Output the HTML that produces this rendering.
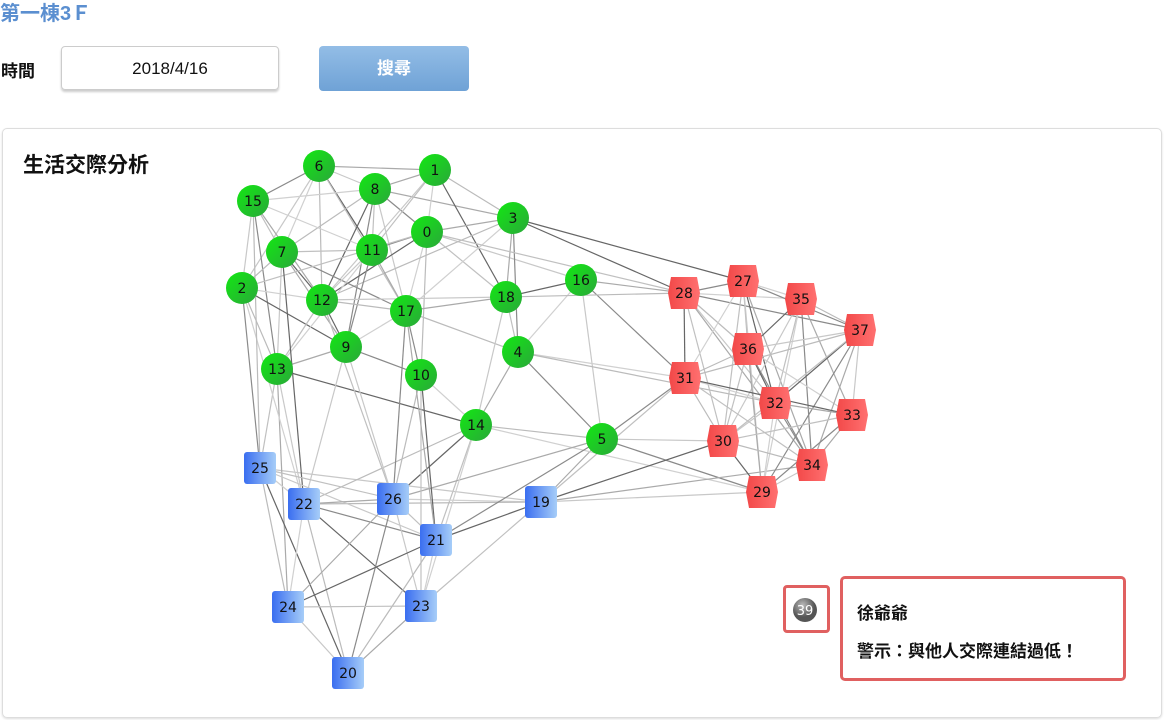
<!DOCTYPE html>
<html><head><meta charset="utf-8">
<style>
body{margin:0;width:1164px;height:720px;background:#fff;font-family:"Liberation Sans","Noto Sans CJK TC",sans-serif;position:relative;overflow:hidden}
.abs{position:absolute}
</style></head><body>
<div class="abs" style="left:0;top:0;font-size:20px;color:#5b8fd0;font-weight:bold;line-height:28px">第一棟3Ｆ</div>
<div class="abs" style="left:1px;top:57px;font-size:17px;color:#111;font-weight:bold">時間</div>
<div class="abs" style="left:61px;top:46px;width:216px;height:42px;border:1px solid #ccc;border-radius:4px;box-shadow:0 2px 2px #ccc;text-align:center;line-height:44px;font-size:17px;color:#111">2018/4/16</div>
<div class="abs" style="left:319px;top:46px;width:150px;height:45px;border-radius:4px;background:linear-gradient(#93bde6,#6fa2d6);color:#fff;font-size:17px;font-weight:bold;text-align:center;line-height:46px">搜尋</div>
<div class="abs" style="left:2px;top:128px;width:1158px;height:588px;border:1px solid #ddd;border-radius:5px;box-shadow:0 1px 2px #ddd"></div>
<div class="abs" style="left:23px;top:149px;font-size:21px;font-weight:bold;color:#111">生活交際分析</div>
<svg class="abs" id="g" style="left:0;top:0" width="1164" height="720">
<defs>
<linearGradient id="gg" x1="0" x2="1" y1="0" y2="1"><stop offset="0" stop-color="#12e812"/><stop offset="1" stop-color="#2aa83a"/></linearGradient>
<linearGradient id="bg" x1="0" x2="1"><stop offset="0" stop-color="#3a6ef0"/><stop offset="1" stop-color="#a6cdf8"/></linearGradient>
<linearGradient id="rg" x1="0" x2="1"><stop offset="0" stop-color="#f24848"/><stop offset="1" stop-color="#ff7070"/></linearGradient>
<radialGradient id="gr" cx="0.4" cy="0.3"><stop offset="0" stop-color="#bbb"/><stop offset="1" stop-color="#555"/></radialGradient>
</defs>
<g id="edges"></g><g id="nodes"></g>
</svg>
<div class="abs" style="left:783px;top:585px;width:41px;height:42px;border:3px solid #e06060;border-radius:4px"></div>
<div class="abs" style="left:840px;top:576px;width:280px;height:99px;border:3px solid #e06060;border-radius:5px">
<div style="position:absolute;left:14px;top:20px;font-size:17px;color:#111;font-weight:bold">徐爺爺</div>
<div style="position:absolute;left:14px;top:58px;font-size:17px;color:#111;font-weight:bold">警示：與他人交際連結過低！</div>
</div>
<script>
const nodeIds=[0,1,2,3,4,5,6,7,8,9,10,11,12,13,14,15,16,17,18,19,20,21,22,23,24,25,26,27,28,29,30,31,32,33,34,35,36,37,39];
const nodeX=[427,435,242,513,518,602,319,282,375,346,421,372,322,277,476,253,581,406,506,541,348,436,304,421,288,260,393,743,684,762,723,685,775,852,812,801,748,860,805];
const nodeY=[232,170,288,218,352,439,166,252,189,347,375,250,300,369,425,201,280,311,297,502,673,540,504,606,607,468,499,281,293,492,441,378,403,415,465,299,349,330,610];
const nodeGroup=['g','g','g','g','g','g','g','g','g','g','g','g','g','g','g','g','g','g','g','b','b','b','b','b','b','b','b','r','r','r','r','r','r','r','r','r','r','r','x'];
const edgeList=[[6,8],[6,1],[6,15],[6,7],[6,12],[6,11],[6,17],[6,2],[8,1],[8,0],[8,15],[8,7],[8,12],[8,11],[8,17],[8,3],[8,9],[1,0],[1,3],[1,18],[1,11],[1,12],[0,3],[0,11],[0,17],[0,10],[0,12],[0,18],[0,16],[3,18],[3,4],[3,17],[3,12],[3,28],[15,7],[15,2],[15,12],[15,13],[15,11],[7,2],[7,12],[7,11],[7,13],[7,9],[7,17],[2,12],[2,13],[2,9],[2,0],[11,12],[11,17],[11,9],[11,13],[12,17],[12,9],[12,13],[12,18],[17,18],[17,10],[17,9],[17,4],[18,16],[18,4],[18,14],[9,13],[9,10],[10,14],[10,26],[13,14],[13,25],[13,22],[4,14],[4,5],[4,16],[14,5],[14,26],[14,21],[16,5],[16,28],[16,31],[4,31],[18,28],[3,27],[0,28],[5,30],[5,19],[5,29],[14,29],[4,32],[19,30],[19,31],[19,29],[19,34],[5,31],[19,26],[19,22],[19,21],[19,23],[19,25],[26,5],[21,5],[14,23],[14,22],[10,21],[10,23],[9,22],[13,24],[2,25],[2,22],[15,25],[7,22],[12,26],[9,26],[17,21],[17,26],[25,22],[25,24],[25,20],[25,26],[25,21],[22,26],[22,21],[22,24],[22,20],[22,23],[26,21],[26,23],[26,24],[26,20],[21,23],[21,20],[21,24],[24,23],[24,20],[23,20],[28,27],[28,35],[28,36],[28,31],[28,30],[28,32],[28,34],[28,37],[27,35],[27,36],[27,32],[27,30],[27,29],[27,34],[27,37],[27,31],[35,37],[35,36],[35,32],[35,30],[35,33],[35,34],[35,29],[36,31],[36,32],[36,30],[36,37],[36,29],[36,34],[36,33],[37,31],[37,32],[37,30],[37,33],[37,34],[37,29],[31,32],[31,30],[31,33],[31,34],[32,30],[32,33],[32,34],[32,29],[30,34],[30,29],[30,33],[34,29],[33,34],[33,29]];
const NS='http://www.w3.org/2000/svg';
const eg=document.getElementById('edges'),ng=document.getElementById('nodes');
function px(id){return nodeX[nodeIds.indexOf(id)]}
function py(id){return nodeY[nodeIds.indexOf(id)]}
const shades=['#c8c8c8','#aaa','#8a8a8a','#d0d0d0','#bbb','#666','#c0c0c0'];
edgeList.forEach((e,i)=>{
 const l=document.createElementNS(NS,'line');
 
 
 l.setAttribute('x1',px(e[0]));l.setAttribute('y1',py(e[0]));
 l.setAttribute('x2',px(e[1]));l.setAttribute('y2',py(e[1]));
 l.setAttribute('stroke',shades[i%7]);l.setAttribute('stroke-width','1.2');
 eg.appendChild(l);
});
nodeIds.forEach((id,i)=>{
 const x=nodeX[i],y=nodeY[i],g=nodeGroup[i];let s;
 if(g==='g'||g==='x'){s=document.createElementNS(NS,'circle');s.setAttribute('cx',x);s.setAttribute('cy',y);s.setAttribute('r',g==='x'?12:16);s.setAttribute('fill',g==='x'?'url(#gr)':'url(#gg)');}
 else if(g==='b'){s=document.createElementNS(NS,'rect');s.setAttribute('x',x-16);s.setAttribute('y',y-16);s.setAttribute('width',32);s.setAttribute('height',32);s.setAttribute('rx',3);s.setAttribute('fill','url(#bg)');}
 else{s=document.createElementNS(NS,'polygon');s.setAttribute('points',[[x-13,y-16],[x+13,y-16],[x+16,y],[x+13,y+16],[x-13,y+16],[x-16,y]].map(p=>p.join(',')).join(' '));s.setAttribute('fill','url(#rg)');}
 
 
 ng.appendChild(s);
 const t=document.createElementNS(NS,'text');
 
 
 t.setAttribute('x',x);t.setAttribute('y',y+5);t.setAttribute('text-anchor','middle');
 t.setAttribute('font-size',g==='x'?'13':'14');t.setAttribute('fill',g==='x'?'#fff':'#111');
 t.setAttribute('font-family','DejaVu Sans, sans-serif');
 t.textContent=id;ng.appendChild(t);
});
</script>
</body></html>
